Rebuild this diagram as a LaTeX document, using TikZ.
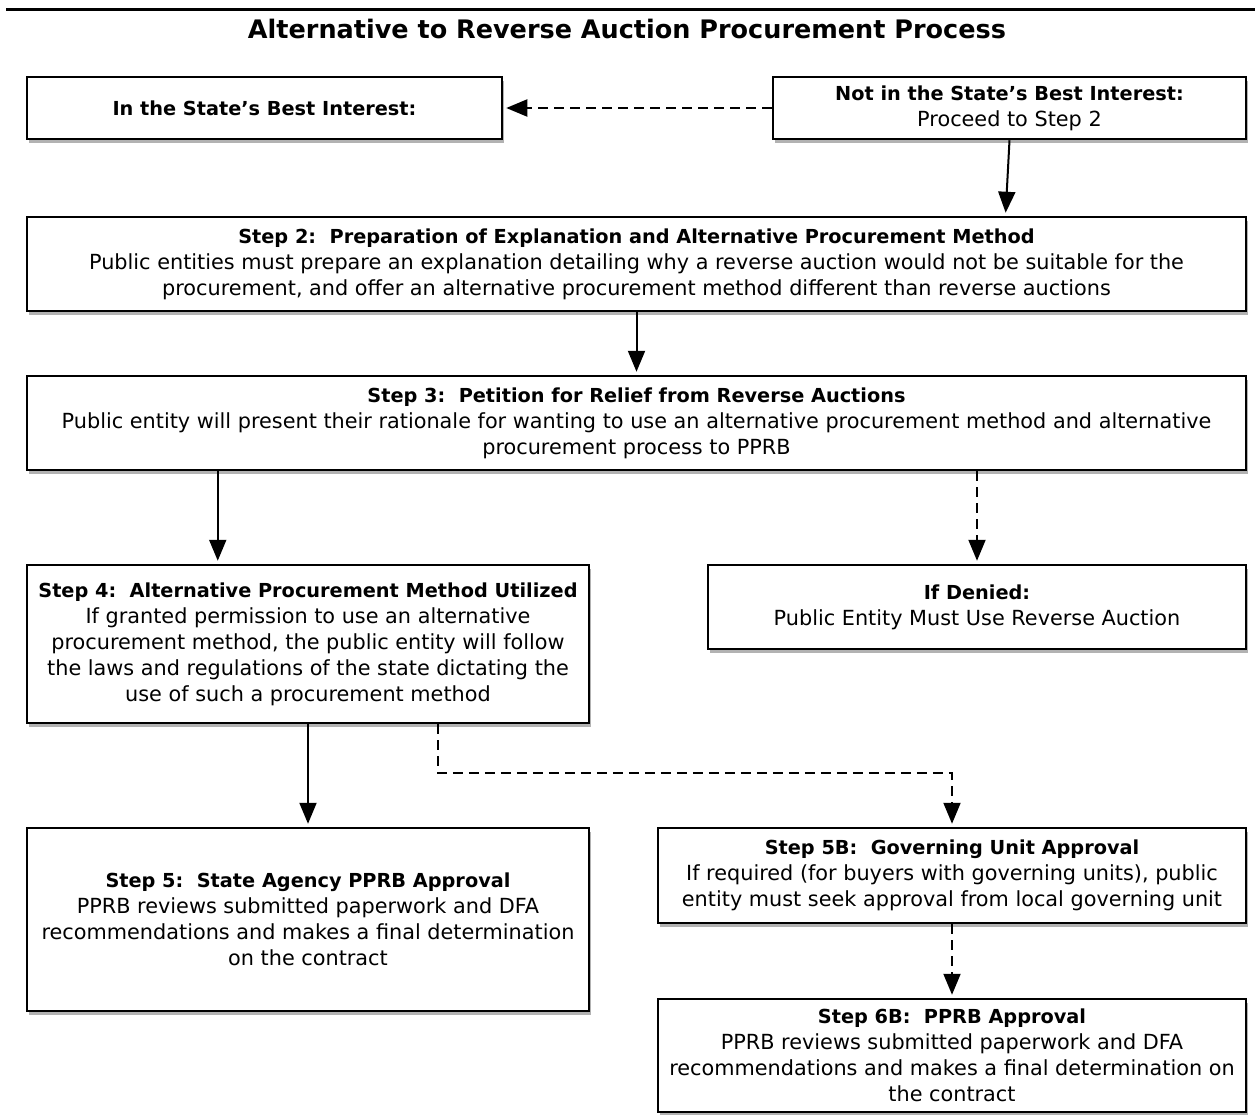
\documentclass[tikz,border=0pt]{standalone}
\usepackage{fontspec}
\setmainfont{DejaVu Sans}
\usetikzlibrary{arrows.meta,shadows}
\newcommand\stephead[1]{{\fontsize{19.3}{26}\selectfont\bfseries #1}}
\begin{document}
\begin{tikzpicture}[x=1pt,y=-1pt,
  box/.style={draw=black, line width=2.5pt, fill=white, inner sep=0pt, align=center,
    font=\fontsize{20.8}{26}\selectfont,
    drop shadow={shadow xshift=2pt, shadow yshift=-4pt, fill=black, opacity=0.3}},
  arr/.style={line width=2pt, -{Triangle[length=21pt,width=17pt]}, shorten >=3pt},
  darr/.style={arr, dash pattern=on 10pt off 6pt},
]
\useasboundingbox (0,0) rectangle (1255,1114);
\fill[white] (0,0) rectangle (1255,1114);
\draw[line width=3pt] (6,9) -- (1255,9);
\node (T) at (627,29) {\fontsize{25.5}{30}\selectfont\bfseries Alternative to Reverse Auction Procurement Process};

\node[box, minimum width=475pt, minimum height=62pt] (A) at (264.5,108)
  {\stephead{In the State’s Best Interest:}};
\node[box, minimum width=473pt, minimum height=62pt] (B) at (1009.5,108)
  {\stephead{Not in the State’s Best Interest:}\\Proceed to Step 2};
\node[box, minimum width=1219pt, minimum height=94pt] (S2) at (636.5,264)
  {\stephead{Step 2:\ \ Preparation of Explanation and Alternative Procurement Method}\\
   Public entities must prepare an explanation detailing why a reverse auction would not be suitable for the\\
   procurement, and offer an alternative procurement method different than reverse auctions};
\node[box, minimum width=1219pt, minimum height=94pt] (S3) at (636.5,423)
  {\stephead{Step 3:\ \ Petition for Relief from Reverse Auctions}\\
   Public entity will present their rationale for wanting to use an alternative procurement method and alternative\\
   procurement process to PPRB};
\node[box, minimum width=562pt, minimum height=158pt] (S4) at (308,644)
  {\stephead{Step 4:\ \ Alternative Procurement Method Utilized}\\
   If granted permission to use an alternative\\
   procurement method, the public entity will follow\\
   the laws and regulations of the state dictating the\\
   use of such a procurement method};
\node[box, minimum width=538pt, minimum height=84pt] (D) at (977,607)
  {\stephead{If Denied:}\\Public Entity Must Use Reverse Auction};
\node[box, minimum width=562pt, minimum height=183pt] (S5) at (308,919.5)
  {\stephead{Step 5:\ \ State Agency PPRB Approval}\\
   PPRB reviews submitted paperwork and DFA\\
   recommendations and makes a final determination\\
   on the contract};
\node[box, minimum width=588pt, minimum height=95pt] (S5B) at (952,875.5)
  {\stephead{Step 5B:\ \ Governing Unit Approval}\\
   If required (for buyers with governing units), public\\
   entity must seek approval from local governing unit};
\node[box, minimum width=588pt, minimum height=113pt] (S6B) at (952,1055.5)
  {\stephead{Step 6B:\ \ PPRB Approval}\\
   PPRB reviews submitted paperwork and DFA\\
   recommendations and makes a final determination on\\
   the contract};

\draw[darr] (B.west) -- (A.east);
\path (B.south |- S2.north) coordinate (b2);
\draw[arr] (B.south) -- ([xshift=-4pt]b2);
\draw[arr] (S2.south) -- (S3.north);
\path ([xshift=192pt]S3.south west) coordinate (s3a);
\draw[arr] (s3a) -- (s3a |- S4.north);
\draw[darr] (S3.south -| D.north) -- (D.north);
\draw[arr] (S4.south) -- (S5.north);
\path ([xshift=412pt]S4.south west) coordinate (s4a);
\draw[darr] (s4a) -- ++(0,49) -| (S5B.north);
\draw[darr] (S5B.south) -- (S6B.north);
\end{tikzpicture}
\end{document}
